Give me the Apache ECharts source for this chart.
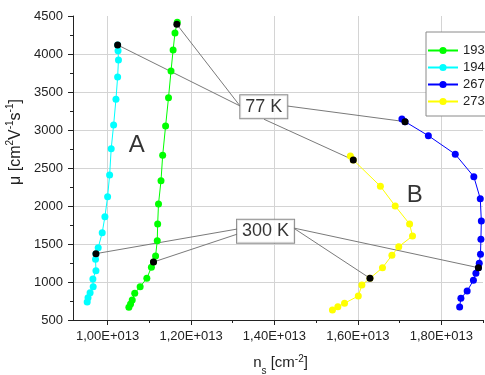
<!DOCTYPE html>
<html>
<head>
<meta charset="utf-8">
<script src="https://cdn.jsdelivr.net/npm/echarts@6.0.0/dist/echarts.min.js"></script>
<style>
html,body{margin:0;padding:0;background:#fff;}
#chart{width:485px;height:375px;}
</style>
</head>
<body>
<div id="chart"></div>
<script>
// ---- data (n_s in units of 1E+013 cm^-2, mu in cm^2 V^-1 s^-1) ----
const NS_UNIT = 1e13;
const seriesNames = ['193', '194', '267', '273'];

const ns193 = [1.167,1.1615,1.157,1.152,1.146,1.139,1.132,1.128,1.122,1.120,1.119,1.115,1.110,1.105,1.094,1.078,1.065,1.059,1.055,1.051];
const mu193 = [4418,4277,4053,3777,3425,3053,2667,2333,2027,1763,1544,1342,1263,1194,1049,938,851,763,711,667];

const ns194 = [1.024,1.025,1.026,1.024,1.020,1.0144,1.0086,1.0048,1.000,0.9935,0.987,0.9774,0.972,0.971,0.972,0.9647,0.9654,0.958,0.953,0.951];
const mu194 = [4119,4044,3922,3698,3404,3066,2754,2408,2123,1859,1649,1451,1373,1299,1149,1040,938,859,793,737];

const ns267 = [1.7056,1.713,1.769,1.8335,1.878,1.8935,1.896,1.895,1.894,1.891,1.889,1.883,1.877,1.862,1.847,1.844];
const mu267 = [3145,3110,2925,2681,2386,2096,1803,1562,1365,1246,1188,1115,1022,881,786,671];

const ns273 = [1.582,1.589,1.654,1.6895,1.724,1.731,1.698,1.6816,1.659,1.629,1.6096,1.601,1.568,1.552,1.539];
const mu273 = [2658,2606,2260,2000,1763,1605,1465,1351,1188,1049,961,816,720,675,632];

// highlighted points (order: 194, 193, 267, 273)
const ns77K = [1.024,1.166,1.713,1.589];
const mu77K = [4119,4390,3110,2606];
const ns300K = [0.972,1.110,1.889,1.629];
const mu300K = [1373,1263,1188,1049];

// axis ticks
const xMajorTicks = [1.0,1.2,1.4,1.6,1.8];
const xMinorTicks = [1.1,1.3,1.5,1.7,1.9];
const xRange = [0.917,1.9];
const yRange = [500,4500];
const yInterval = 500;

// annotations (text and anchor in data units)
const annotations = [
  {text:'77 K', at:[1.3744,3307],
   anchors:[[1.3175,3316],[1.3175,3316],[1.4303,3316],[1.3751,3141]], pts:[ns77K,mu77K]},
  {text:'300 K', at:[1.3787,1667],
   anchors:[[1.312,1698],[1.312,1632],[1.4454,1711],[1.4454,1711]], pts:[ns300K,mu300K]}
];
const letters = [{text:'A', at:[1.0696,2796]},{text:'B', at:[1.7363,2145]}];

// ---- build ----
const pair = (xs, ys) => xs.map((x,i)=>[x*NS_UNIT, ys[i]]);
const colors = {'193':'#00ff00','194':'#00ffff','267':'#0000ff','273':'#ffff00'};
const dataMap = {'193':[ns193,mu193],'194':[ns194,mu194],'267':[ns267,mu267],'273':[ns273,mu273]};

const FONT = 'Liberation Sans, Arial, sans-serif';
const series = [];

// leader lines
annotations.forEach(a=>{
  const d = [];
  a.pts[0].forEach((x,i)=>{
    d.push([a.anchors[i][0]*NS_UNIT, a.anchors[i][1]]);
    d.push([x*NS_UNIT, a.pts[1][i]]);
    d.push(null);
  });
  series.push({type:'line', name:'leader', data:d, showSymbol:false, symbol:'none', silent:true,
    connectNulls:false, lineStyle:{color:'#7a7a7a', width:1}, z:3, animation:false});
});

seriesNames.forEach(n=>{
  series.push({type:'line', name:n, data:pair(dataMap[n][0], dataMap[n][1]),
    symbol:'circle', symbolSize:7, showAllSymbol:true,
    itemStyle:{color:colors[n]}, lineStyle:{color:colors[n], width:1}, z:4, animation:false});
});

// black markers
series.push({type:'scatter', name:'marks', data:pair(ns77K,mu77K).concat(pair(ns300K,mu300K)),
  symbol:'circle', symbolSize:7, itemStyle:{color:'#000', opacity:1}, z:6, silent:true, animation:false});

// boxed labels
series.push({type:'scatter', name:'boxes', symbolSize:0, silent:true, z:10, animation:false,
  data:annotations.map(a=>({value:[a.at[0]*NS_UNIT,a.at[1]], label:{formatter:a.text}})),
  label:{show:true, position:'inside', color:'#000', fontSize:18, fontFamily:FONT,
    backgroundColor:'#fff', borderColor:'#707070', borderWidth:1, padding:[3,5,2,5]}});

// letters A, B
series.push({type:'scatter', name:'letters', symbolSize:0, silent:true, z:10, animation:false,
  data:letters.map(l=>({value:[l.at[0]*NS_UNIT,l.at[1]], label:{formatter:l.text}})),
  label:{show:true, position:'inside', color:'#000', fontSize:24, fontFamily:FONT}});

const fmtX = v => (v/NS_UNIT).toFixed(2).replace('.',',') + 'E+013';

const option = {
  animation:false,
  backgroundColor:'#fff',
  textStyle:{fontFamily:FONT},
  grid:{left:73, right:2, top:16, bottom:55, containLabel:false, outerBoundsMode:'none'},
  legend:{
    data:seriesNames, orient:'vertical', left:426, top:32,
    backgroundColor:'#fff', borderColor:'#8a8a8a', borderWidth:1,
    padding:[12,10,8,1], itemGap:4, itemWidth:30, itemHeight:9,
    textStyle:{fontSize:13, color:'#222', lineHeight:13, fontFamily:FONT}
  },
  xAxis:[{
    type:'value', min:xRange[0]*NS_UNIT, max:xRange[1]*NS_UNIT,
    axisLine:{show:true, onZero:false, lineStyle:{color:'#222', width:1}},
    axisTick:{show:true, length:5, customValues:xMajorTicks.map(v=>v*NS_UNIT), lineStyle:{color:'#222'}},
    axisLabel:{customValues:xMajorTicks.map(v=>v*NS_UNIT), formatter:fmtX, color:'#222', fontSize:13, margin:10, fontFamily:FONT},
    splitLine:{show:true, lineStyle:{color:'#d4d4d4', width:1}},
    name:'{t|n}{sub|s}{t| [cm}{sup|-2}{t|]}', nameLocation:'middle', nameGap:34,
    nameTextStyle:{padding:[0,0,0,5], rich:{
      t:{fontSize:15, color:'#222', fontFamily:FONT, lineHeight:18},
      sub:{fontSize:10, color:'#222', fontFamily:FONT, verticalAlign:'bottom', lineHeight:10, padding:[0,0,-4,0]},
      sup:{fontSize:10, color:'#222', fontFamily:FONT, verticalAlign:'top', lineHeight:10}}}
  },{
    type:'value', min:xRange[0]*NS_UNIT, max:xRange[1]*NS_UNIT, position:'bottom',
    axisLine:{show:false},
    axisTick:{show:true, length:3, customValues:xMinorTicks.map(v=>v*NS_UNIT), lineStyle:{color:'#222'}},
    axisLabel:{show:false}, splitLine:{show:false}
  }],
  yAxis:{
    type:'value', min:yRange[0], max:yRange[1], interval:yInterval,
    axisLine:{show:true, onZero:false, lineStyle:{color:'#222', width:1}},
    axisTick:{show:true, length:5, lineStyle:{color:'#222'}},
    minorTick:{show:true, splitNumber:2, length:3, lineStyle:{color:'#222'}},
    axisLabel:{color:'#222', fontSize:13, margin:10, fontFamily:FONT, formatter:v=>String(v)},
    splitLine:{show:true, showMaxLine:false, lineStyle:{color:'#d4d4d4', width:1}},
    name:'{t|μ [cm}{sup|2}{t|V}{sup|-1}{t|s}{sup|-1}{t|]}', nameLocation:'middle', nameGap:44,
    nameTextStyle:{padding:[0,0,0,52], rich:{
      t:{fontSize:16, color:'#222', fontFamily:FONT, lineHeight:19},
      sup:{fontSize:10, color:'#222', fontFamily:FONT, verticalAlign:'top', lineHeight:10}}}
  },
  series:series
};

const chart = echarts.init(document.getElementById('chart'), null, {renderer:'canvas'});
chart.setOption(option);
</script>
</body>
</html>
